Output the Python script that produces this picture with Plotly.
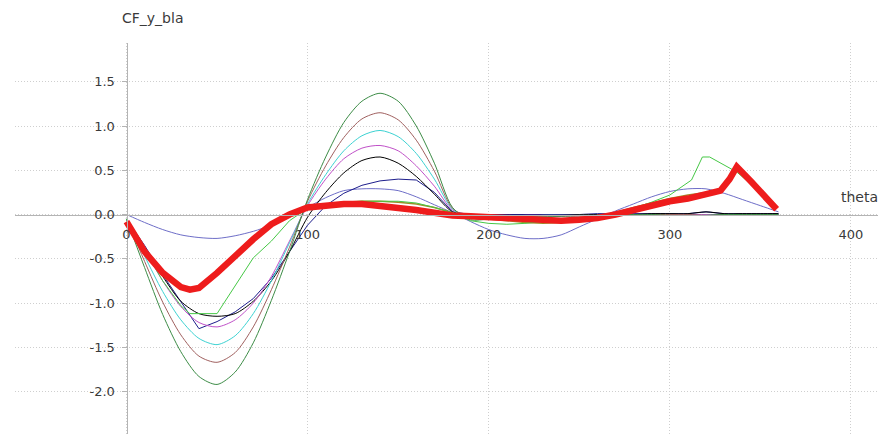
import plotly.graph_objects as go

# ---------------- data ----------------
theta = [0, 10, 20, 30, 40, 50, 60, 70, 80, 90, 100, 110, 120, 130, 140, 150, 160, 170, 180,
         190, 200, 210, 220, 230, 240, 250, 260, 270, 280, 290, 300, 310, 320, 330, 340, 350, 360]

dark_green = [-0.05, -0.60, -1.13, -1.55, -1.83, -1.92, -1.78, -1.45, -0.97, -0.42, 0.17, 0.65, 1.04, 1.28, 1.37, 1.28, 1.00, 0.58, 0.08,
              -0.06, -0.05, -0.03, -0.02, -0.02, -0.02, -0.01, -0.01, 0.0, 0.0, 0.0, -0.01, -0.01, -0.01, 0.0, 0.0, 0.0, 0.0]
brown = [-0.05, -0.53, -0.99, -1.36, -1.60, -1.67, -1.56, -1.27, -0.85, -0.37, 0.15, 0.55, 0.87, 1.08, 1.15, 1.07, 0.84, 0.49, 0.07,
         -0.03, -0.04, -0.04, -0.03, -0.03, -0.02, -0.02, -0.01, 0.0, 0.0, 0.0, 0.0, 0.0, -0.01, 0.0, 0.0, 0.0, 0.0]
cyan = [-0.05, -0.47, -0.87, -1.19, -1.40, -1.47, -1.37, -1.12, -0.75, -0.32, 0.12, 0.45, 0.72, 0.89, 0.95, 0.88, 0.69, 0.40, 0.06,
        -0.04, -0.05, -0.03, -0.02, -0.01, -0.01, -0.01, -0.01, 0.0, 0.0, -0.01, -0.01, -0.01, -0.01, 0.0, 0.0, 0.0, 0.0]
magenta = [-0.05, -0.40, -0.75, -1.04, -1.22, -1.27, -1.19, -1.00, -0.70, -0.30, 0.10, 0.40, 0.63, 0.75, 0.78, 0.72, 0.55, 0.32, 0.05,
           -0.02, -0.02, -0.02, -0.01, -0.01, -0.01, -0.01, -0.01, -0.01, -0.01, -0.01, -0.01, 0.0, 0.0, 0.0, 0.0, 0.0, 0.0]
black = [-0.05, -0.38, -0.70, -0.98, -1.12, -1.15, -1.12, -0.98, -0.75, -0.42, -0.03, 0.25, 0.47, 0.61, 0.65, 0.58, 0.43, 0.23, 0.03,
         0.0, -0.01, -0.01, -0.01, -0.01, -0.01, 0.0, 0.0, 0.0, 0.0, 0.01, 0.01, 0.01, 0.03, 0.01, 0.01, 0.01, 0.01]
navy = [-0.05, -0.35, -0.68, -0.98, -1.29, -1.21, -1.10, -0.95, -0.72, -0.42, -0.12, 0.10, 0.24, 0.33, 0.38, 0.40, 0.39, 0.25, 0.03,
        0.0, 0.0, 0.0, 0.0, 0.0, 0.0, 0.0, 0.01, 0.01, 0.01, 0.01, 0.01, 0.01, 0.03, 0.01, 0.01, 0.01, 0.01]
slate = [0.0, -0.09, -0.17, -0.23, -0.26, -0.27, -0.24, -0.19, -0.12, -0.03, 0.08, 0.19, 0.27, 0.29, 0.29, 0.27, 0.20, 0.11, 0.02,
         -0.08, -0.17, -0.23, -0.27, -0.27, -0.23, -0.14, -0.05, 0.04, 0.12, 0.20, 0.26, 0.29, 0.29, 0.24, 0.17, 0.10, 0.03]

green_theta = [0, 10, 20, 30, 35, 50, 60, 70, 80, 90, 100, 110, 120, 130, 140, 150, 160, 170, 180,
               190, 200, 210, 220, 230, 240, 250, 260, 270, 280, 290, 300, 312, 318, 322, 337, 350, 359]
green = [-0.05, -0.40, -0.75, -1.03, -1.12, -1.12, -0.80, -0.49, -0.30, -0.07, 0.07, 0.12, 0.14, 0.15, 0.15, 0.15, 0.13, 0.08, 0.02,
         -0.07, -0.10, -0.11, -0.10, -0.08, -0.06, -0.04, -0.02, 0.01, 0.07, 0.14, 0.22, 0.39, 0.65, 0.65, 0.48, 0.25, 0.07]

red_theta = [0, 5, 10, 20, 30, 35, 40, 50, 60, 70, 80, 90, 100, 110, 120, 130, 140, 150, 160, 170, 180,
             190, 200, 210, 220, 230, 240, 250, 260, 270, 280, 290, 300, 310, 320, 328, 333, 337, 345, 352, 359]
red = [-0.08, -0.25, -0.42, -0.66, -0.82, -0.85, -0.83, -0.66, -0.46, -0.28, -0.11, 0.0, 0.08, 0.10, 0.12, 0.12, 0.10, 0.08, 0.05, 0.02, -0.01,
       -0.02, -0.03, -0.05, -0.06, -0.07, -0.07, -0.06, -0.04, 0.0, 0.05, 0.10, 0.15, 0.18, 0.22, 0.27, 0.40, 0.54, 0.37, 0.21, 0.06]
olive = [-0.08, -0.25, -0.42, -0.66, -0.82, -0.85, -0.83, -0.66, -0.46, -0.28, -0.11, 0.0, 0.08, 0.12, 0.14, 0.15, 0.15, 0.14, 0.12, 0.08, 0.02,
         -0.03, -0.05, -0.07, -0.09, -0.10, -0.09, -0.07, -0.04, 0.02, 0.08, 0.13, 0.18, 0.22, 0.25, 0.29, 0.42, 0.52, 0.38, 0.22, 0.07]

y_ticks = [-2.0, -1.5, -1.0, -0.5, 0.0, 0.5, 1.0, 1.5]
y_tick_text = ["-2.0", "-1.5", "-1.0", "-0.5", "0.0", "0.5", "1.0", "1.5"]
x_ticks = [0, 100, 200, 300, 400]
x_tick_text = ["0", "100", "200", "300", "400"]

# ---------------- figure ----------------
W, H = 878, 434
ML, MR, MT, MB = 15, 0, 43, 0
X_RANGE = [-61.57, 414.96]
Y_RANGE = [-2.48, 1.938]

FONT = "DejaVu Sans"
TXT = "#3a3a3a"
AXC = "#b4b4b4"
GRID = "#cfcfcf"
GRID_DASH = "1px,2px"

fig = go.Figure()

def add(xs, ys, color, width=1, shape="spline"):
    fig.add_trace(go.Scatter(x=xs, y=ys, mode="lines",
                             line=dict(color=color, width=width, shape=shape, smoothing=0.8 if shape == "spline" else None),
                             hoverinfo="skip", showlegend=False, cliponaxis=True))

add(theta, slate, "#6e6ec8")
add(theta, navy, "#1e1e8c", shape="linear")
add(theta, black, "#000000")
add(theta, magenta, "#c050c8")
add(theta, cyan, "#3cd2d2")
add(theta, brown, "#a0605f")
add(theta, dark_green, "#3c8c46")
add(red_theta, olive, "#a08c28", width=1.5, shape="linear")
add(green_theta, green, "#46c846", shape="linear")
add(red_theta, red, "#ee1c1c", width=6.5, shape="linear")

xpos = (0 - X_RANGE[0]) / (X_RANGE[1] - X_RANGE[0])
ypos = (0 - Y_RANGE[0]) / (Y_RANGE[1] - Y_RANGE[0])

fig.update_layout(
    width=W, height=H,
    margin=dict(l=ML, r=MR, t=MT, b=MB, pad=0),
    paper_bgcolor="white", plot_bgcolor="white",
    font=dict(family=FONT, size=13, color=TXT),
    xaxis=dict(range=X_RANGE, anchor="free", position=ypos,
               tickvals=x_ticks, ticktext=x_tick_text, ticks="", ticklabelstandoff=8,
               showline=True, linecolor=AXC, linewidth=1, zeroline=False,
               showgrid=True, gridcolor=GRID, griddash=GRID_DASH, gridwidth=1,
               tickfont=dict(family=FONT, size=13, color=TXT), fixedrange=True),
    yaxis=dict(range=Y_RANGE, anchor="free", position=xpos,
               tickvals=y_ticks, ticktext=y_tick_text, ticks="outside", ticklen=5, tickcolor=AXC,
               ticklabelstandoff=4,
               showline=True, linecolor=AXC, linewidth=1, zeroline=False,
               showgrid=True, gridcolor=GRID, griddash=GRID_DASH, gridwidth=1,
               tickfont=dict(family=FONT, size=13, color=TXT), fixedrange=True),
    annotations=[
        dict(text="CF_y_bla", xref="paper", yref="paper",
             x=(152 - ML) / (W - ML - MR), y=(H - MB - 18) / (H - MT - MB),
             xanchor="center", yanchor="middle", showarrow=False,
             font=dict(family=FONT, size=14, color=TXT)),
        dict(text="theta", xref="paper", yref="paper",
             x=(839 - ML) / (W - ML - MR), y=(H - MB - 197) / (H - MT - MB),
             xanchor="left", yanchor="middle", showarrow=False,
             font=dict(family=FONT, size=14, color=TXT)),
    ],
)

fig.write_html("out.html", config={"displayModeBar": False})
